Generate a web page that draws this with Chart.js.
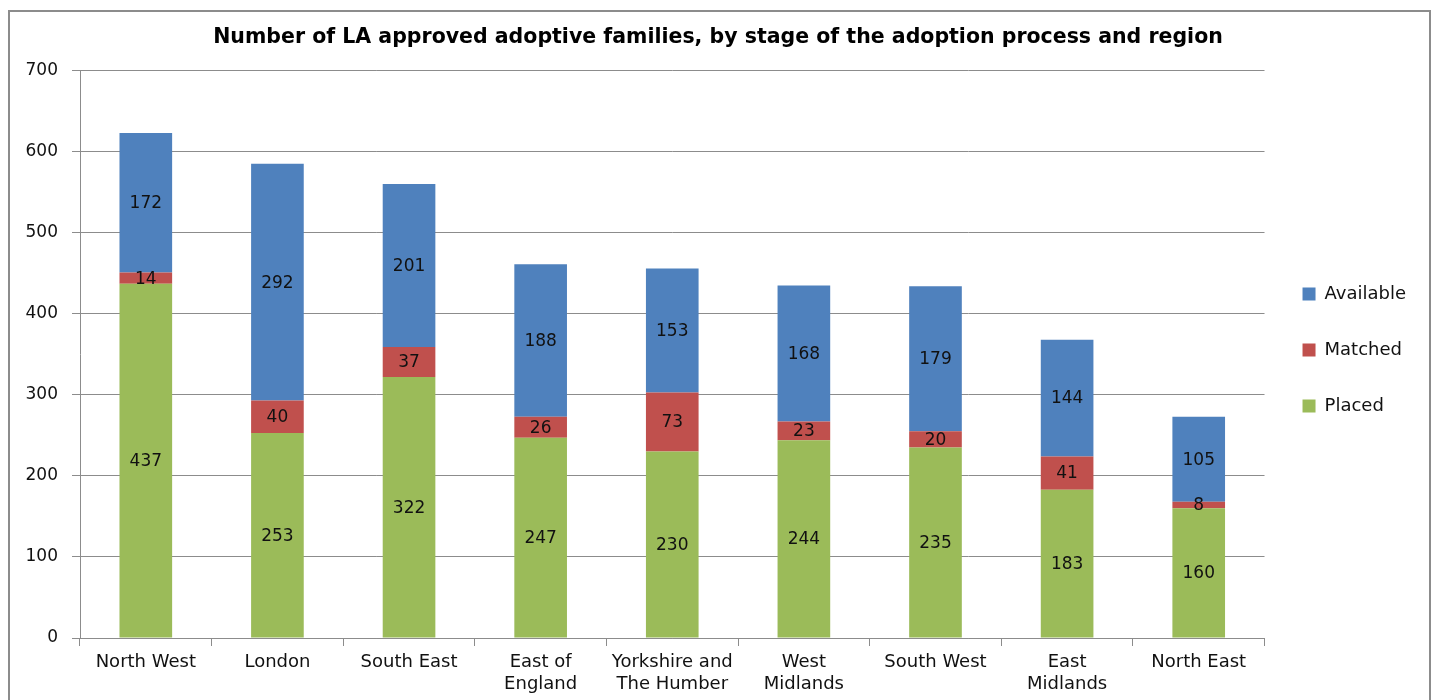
<!DOCTYPE html>
<html>
<head>
<meta charset="utf-8">
<script src="https://cdn.jsdelivr.net/npm/chart.js@4"></script>
<style>
  html, body { margin: 0; padding: 0; background: #fff; overflow: hidden; }
  #frame { position: absolute; left: 8px; top: 10px; width: 1419px; height: 720px; border: 2px solid #8c8c8c; }
  #wrap { position: absolute; left: 0; top: 0; width: 1436px; height: 700px; }
</style>
</head>
<body>
<div id="frame"></div>
<div id="wrap"><canvas id="grafico"></canvas></div>
<script>
const regioes = ['North West', 'London', 'South East', ['East of', 'England'], ['Yorkshire and', 'The Humber'],
  ['West', 'Midlands'], 'South West', ['East', 'Midlands'], 'North East'];
const placed = [437, 253, 322, 247, 230, 244, 235, 183, 160];
const matched = [14, 40, 37, 26, 73, 23, 20, 41, 8];
const available = [172, 292, 201, 188, 153, 168, 179, 144, 105];
const yTicks = [0, 100, 200, 300, 400, 500, 600, 700];

const cinza = '#8c8c8c';

// valores dentro das barras
const rotulosBarras = {
  id: 'rotulosBarras',
  afterDatasetsDraw(chart) {
    const ctx = chart.ctx;
    ctx.save();
    ctx.font = '17px "DejaVu Sans"';
    ctx.fillStyle = '#111';
    ctx.textAlign = 'center';
    ctx.textBaseline = 'middle';
    chart.data.datasets.forEach((ds, i) => {
      chart.getDatasetMeta(i).data.forEach((bar, j) => {
        ctx.fillText(ds.data[j], bar.x, (bar.y + bar.base) / 2 + 1);
      });
    });
    ctx.restore();
  }
};

new Chart(document.getElementById('grafico'), {
  type: 'bar',
  data: {
    labels: regioes,
    datasets: [
      { label: 'Placed', data: placed, backgroundColor: '#9bbb59' },
      { label: 'Matched', data: matched, backgroundColor: '#c0504d' },
      { label: 'Available', data: available, backgroundColor: '#4f81bd' }
    ]
  },
  options: {
    responsive: true,
    maintainAspectRatio: false,
    animation: false,
    layout: { padding: { left: 20, right: 20 } },
    datasets: { bar: { barPercentage: 0.4, categoryPercentage: 1 } },
    plugins: {
      title: {
        display: true,
        text: 'Number of LA approved adoptive families, by stage of the adoption process and region',
        color: '#000',
        font: { family: 'DejaVu Sans', size: 20.5, weight: 'bold' },
        padding: { top: 25, bottom: 21 }
      },
      legend: {
        position: 'right',
        reverse: true,
        labels: {
          boxWidth: 13,
          boxHeight: 13,
          padding: 38,
          color: '#111',
          font: { family: 'DejaVu Sans', size: 18 }
        }
      },
      tooltip: { enabled: false }
    },
    scales: {
      x: {
        stacked: true,
        grid: { display: true, drawOnChartArea: false, drawTicks: true, tickLength: 8, color: cinza },
        border: { color: cinza },
        ticks: { color: '#111', padding: 5, maxRotation: 0, autoSkip: false,
          font: { family: 'DejaVu Sans', size: 18, lineHeight: 1.25 } },
        afterFit(scale) { scale.height = 62; }
      },
      y: {
        stacked: true,
        min: 0,
        max: 700,
        afterBuildTicks(scale) { scale.ticks = yTicks.map(v => ({ value: v })); },
        grid: { color: cinza, tickLength: 8 },
        border: { color: cinza },
        ticks: { color: '#111', padding: 14, font: { family: 'DejaVu Sans', size: 17 } },
        afterFit(scale) { scale.width = 60; }
      }
    }
  },
  plugins: [rotulosBarras]
});
</script>
</body>
</html>
